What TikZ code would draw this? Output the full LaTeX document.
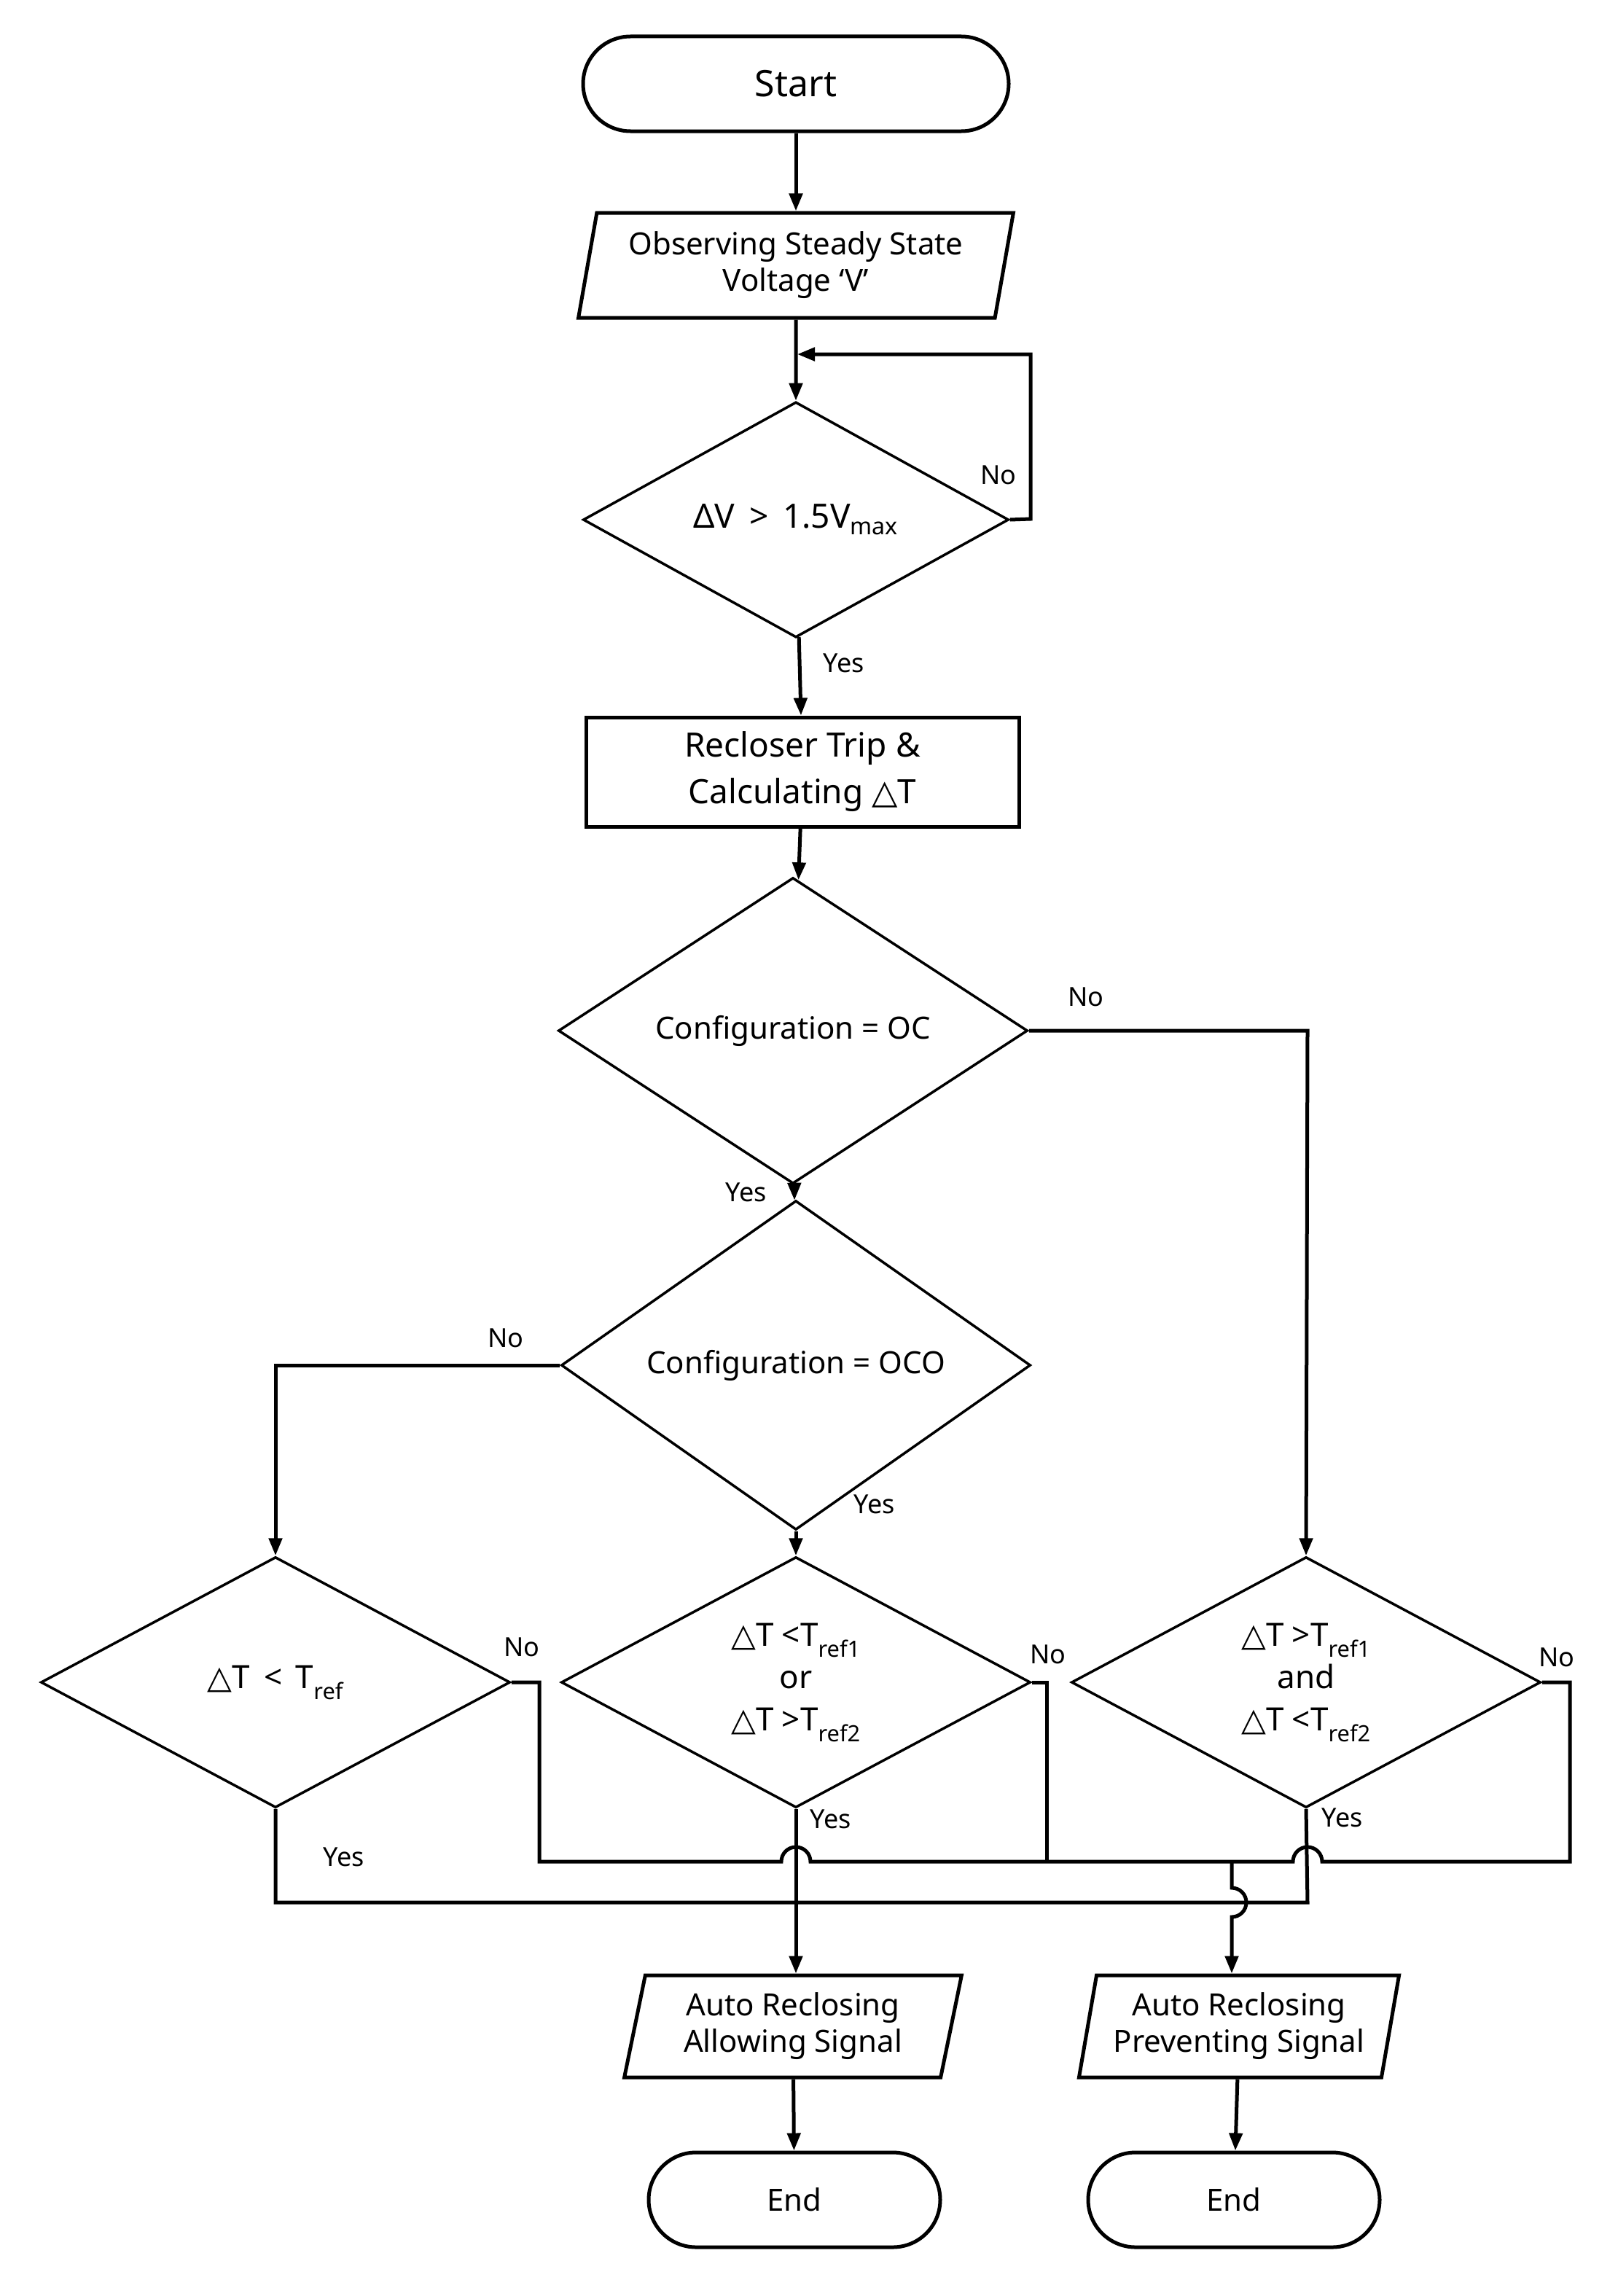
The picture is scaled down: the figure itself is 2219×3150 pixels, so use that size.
\documentclass[tikz,border=0pt]{standalone}
\usepackage{fontspec}
\setmainfont{Noto Sans}
\newfontfamily\djv{DejaVu Sans}
\usetikzlibrary{shapes.geometric,arrows.meta}
\newcommand{\tri}{{\djv\char"25B3}}
\begin{document}
\begin{tikzpicture}[x=1pt,y=1pt,line width=5pt,
 base/.style={draw,font=\fontsize{42}{50}\selectfont\bfseries,align=center,inner sep=0pt},
 term/.style={base,rounded corners=65pt,minimum width=584pt,minimum height=130pt},
 io/.style={base,trapezium,trapezium left angle=77,trapezium right angle=103,trapezium stretches=true},
 dec/.style={base,diamond,line width=3.5pt},
 proc/.style={base,rectangle,minimum width=594pt,minimum height=150pt},
 arr/.style={-{Triangle[length=24pt,width=18pt]}},
 lab/.style={font=\fontsize{36}{40}\selectfont\bfseries}]
\useasboundingbox (0,0) rectangle (2219,-3150);
\node[term,font=\fontsize{50}{60}\selectfont\bfseries] (start) at (1092,-115) {Start};
\node[io,minimum width=600pt,minimum height=144pt] (obs) at (1092,-364) {Observing Steady State\\Voltage ‘V’};
\node[dec,minimum width=584pt,minimum height=294pt,font=\fontsize{46}{50}\selectfont\bfseries] (d1) at (1092,-713) {ΔV \,>\, 1.5V\textsubscript{max}};
\node[proc,font=\fontsize{46}{64}\selectfont\bfseries] (trip) at (1101,-1059) {Recloser Trip \&\\Calculating \tri T};
\node[dec,minimum width=644pt,minimum height=340pt] (d2) at (1088,-1414) {Configuration = OC};
\node[dec,minimum width=644pt,minimum height=338pt] (d3) at (1092,-1873) {Configuration = OCO};
\node[dec,minimum width=644pt,minimum height=344pt,font=\fontsize{44}{50}\selectfont\bfseries] (d4) at (378,-2308) {\tri T \,<\, T\textsubscript{ref}};
\node[dec,minimum width=644pt,minimum height=344pt,font=\fontsize{44}{58}\selectfont\bfseries] (d5) at (1092,-2308) {\tri T <T\textsubscript{ref1}\\or\\\tri T >T\textsubscript{ref2}};
\node[dec,minimum width=644pt,minimum height=344pt,font=\fontsize{44}{58}\selectfont\bfseries] (d6) at (1792,-2308) {\tri T >T\textsubscript{ref1}\\and\\\tri T <T\textsubscript{ref2}};
\node[io,minimum width=464pt,minimum height=140pt] (allow) at (1088,-2780) {Auto Reclosing\\Allowing Signal};
\node[io,minimum width=440pt,minimum height=140pt] (prev) at (1700,-2780) {Auto Reclosing\\Preventing Signal};
\node[term,minimum width=400pt] (end1) at (1090,-3018) {End};
\node[term,minimum width=400pt] (end2) at (1693,-3018) {End};
\draw[arr] (start) -- (obs);
\draw[arr] (obs) -- (d1);
\draw[arr] (d1.east) -- (1414,-712) -- (1414,-486) -- (1094,-486);
\draw[arr] (d1) -- (trip);
\draw[arr] (trip) -- (d2);
\draw[arr] (d2) -- (d3);
\draw[arr] (d2.east) -- (1794,-1414) -- (d6.north);
\draw[arr] (d3.west) -- (378,-1873) -- (d4.north);
\draw[arr] (d3) -- (d5);
% no bus
\draw (d4.east) -- (740,-2308) -- (740,-2554) -- (1072,-2554) arc[start angle=180,end angle=0,radius=20] -- (1774,-2554) arc[start angle=180,end angle=0,radius=20] -- (2154,-2554) -- (2154,-2308) -- (d6.east);
\draw (d5.east) -- (1436,-2308) -- (1436,-2554);
\draw[arr] (1690,-2554) -- (1690,-2590) arc[start angle=90,end angle=-90,radius=20] -- (prev.north -| 1690,0);
% yes bus
\draw (d4.south) -- (378,-2610) -- (1794,-2610) -- (d6.south);
\draw[arr] (d5.south) -- (allow.north -| 1092,0);
\draw[arr] (allow) -- (end1);
\draw[arr] (prev) -- (end2);
\node[lab] at (1370,-652) {No};
\node[lab] at (1158,-910) {Yes};
\node[lab] at (1490,-1368) {No};
\node[lab] at (1024,-1636) {Yes};
\node[lab] at (694,-1836) {No};
\node[lab] at (1200,-2064) {Yes};
\node[lab] at (716,-2260) {No};
\node[lab] at (1438,-2270) {No};
\node[lab] at (2136,-2274) {No};
\node[lab] at (1140,-2496) {Yes};
\node[lab] at (1842,-2494) {Yes};
\node[lab] at (472,-2548) {Yes};
\end{tikzpicture}
\end{document}
